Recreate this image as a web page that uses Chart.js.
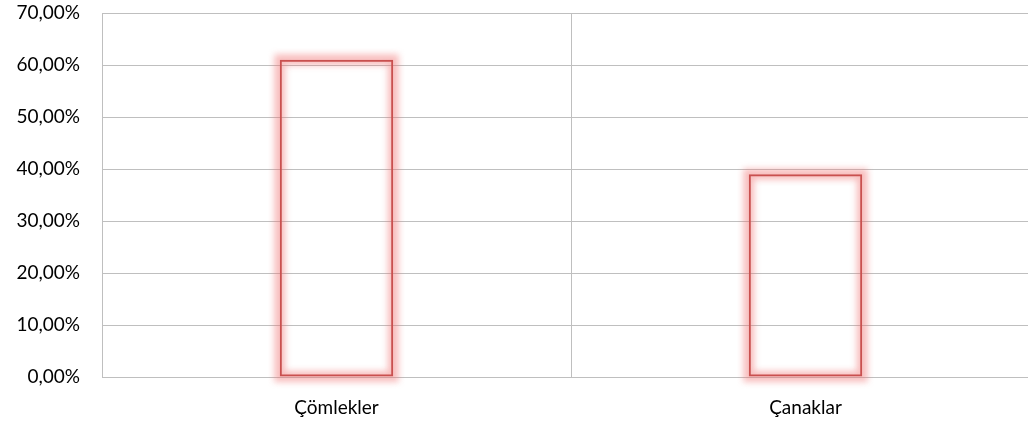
<!DOCTYPE html>
<html>
<head>
<meta charset="utf-8">
<script src="https://cdn.jsdelivr.net/npm/chart.js@4/dist/chart.umd.min.js"></script>
<style>
  html, body { margin: 0; padding: 0; background: #fff; overflow: hidden; }
  #wrap { width: 1040px; height: 425px; }
</style>
</head>
<body>
<div id="wrap"><canvas id="myChart"></canvas></div>
<script>
// categories and values (percent)
var categories = ['Çömlekler', 'Çanaklar'];
var shares = [61, 39];
var yTicks = [0, 10, 20, 30, 40, 50, 60, 70];

// soft red glow around the bar outlines, drawn under the crisp border
var glowPlugin = {
    id: 'glow',
    beforeDatasetDraw: function (chart, args) {
        var c = chart.ctx;
        var bars = args.meta.data;
        c.save();
        c.filter = 'blur(3px)';
        c.strokeStyle = 'rgba(240, 110, 110, 0.45)';
        c.lineWidth = 11;
        bars.forEach(function (b) {
            var p = b.getProps(['x', 'y', 'base', 'width'], true);
            var top = Math.min(p.y, p.base);
            var h = Math.abs(p.base - p.y);
            c.strokeRect(p.x - p.width / 2, top, p.width, h);
        });
        c.restore();
    }
};

var fmt = function (v) {
    return v.toFixed(2).replace('.', ',') + '%';
};

const ctx = document.getElementById('myChart');

new Chart(ctx, {
    type: 'bar',
    data: {
        labels: categories,
        datasets: [{
            label: 'Oran',
            data: shares,
            backgroundColor: 'rgba(255, 255, 255, 0)',
            borderColor: '#c9504f',
            borderWidth: 2,
            borderSkipped: false,
            barPercentage: 0.242,
            categoryPercentage: 1
        }]
    },
    options: {
        responsive: true,
        maintainAspectRatio: false,
        animation: false,
        layout: { padding: { top: 13, right: 0, left: 0, bottom: 0 } },
        plugins: {
            legend: { display: false },
            tooltip: { enabled: false }
        },
        scales: {
            x: {
                grid: { color: '#bfbfbf', lineWidth: 1, drawTicks: false, offset: true },
                border: { color: '#bfbfbf' },
                ticks: { color: '#000', font: { family: 'Lato', size: 19 }, padding: 19 },
                afterFit: function (s) { s.height = 48; s.paddingLeft = 0; s.paddingRight = 0; }
            },
            y: {
                min: 0,
                max: 70,
                afterBuildTicks: function (s) {
                    s.ticks = yTicks.map(function (v) { return { value: v }; });
                },
                grid: { color: '#bfbfbf', lineWidth: 1, drawTicks: false },
                border: { display: false },
                ticks: {
                    color: '#000',
                    font: { family: 'Lato', size: 19 },
                    padding: 22,
                    callback: fmt
                },
                afterFit: function (s) { s.width = 102; s.paddingTop = 0; s.paddingBottom = 0; }
            }
        }
    },
    plugins: [glowPlugin]
});
</script>
</body>
</html>
